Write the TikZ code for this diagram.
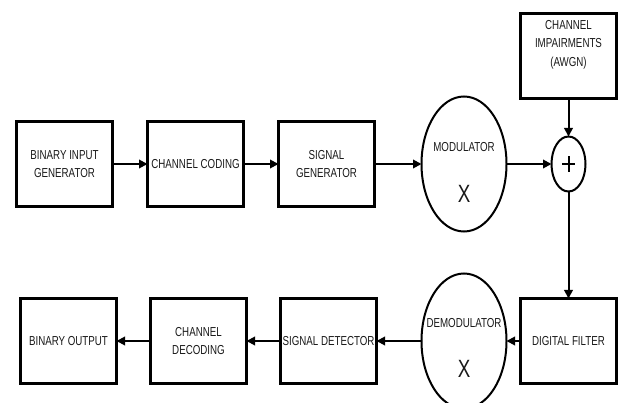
\documentclass[tikz,border=0pt]{standalone}
\usepackage{fontspec}
\setmainfont{Liberation Sans}[FakeStretch=0.75]
\usepackage{tikz}
\usetikzlibrary{shapes,arrows.meta,positioning}

\begin{document}
\begin{tikzpicture}[x=1pt,y=-1pt,
	font=\fontsize{13}{18.5}\selectfont,
	block/.style={draw, line width=2.2pt, minimum width=96pt, minimum height=85pt, inner sep=0pt, outer sep=0pt, align=center, text=black!90},
	oval/.style={draw, ellipse, line width=2pt, minimum width=85pt, minimum height=135pt, inner sep=0pt, outer sep=0pt},
	adder/.style={draw, ellipse, line width=2pt, minimum width=34pt, minimum height=55pt, inner sep=0pt, outer sep=0pt},
	link/.style={line width=2pt, -{Triangle[length=8.5pt,width=8.5pt]}}]

				\useasboundingbox (0,0) rectangle (619,403);

				% transmitter
				\node [block] (bin) at (64.5,164) {BINARY INPUT\\GENERATOR};
				\node [block, right=35pt of bin] (cod) {CHANNEL CODING};
				\node [block, right=35pt of cod] (gen) {SIGNAL\\GENERATOR};
				\node [oval, right=47pt of gen] (mod) {};
				\node [adder, right=45pt of mod] (add) {};
				\node [block, above=38pt of add] (imp) {};

				\node [text=black!90] at ([yshift=16.5pt]mod.center) {MODULATOR};
				\node [text=black!90, font=\fontsize{25}{25}\selectfont] at ([yshift=-29.5pt]mod.center) {X};
				\node [text=black!90, align=center] at ([yshift=11.5pt]imp.center) {CHANNEL\\IMPAIRMENTS\\(AWGN)};
				\draw [line width=2pt] ([xshift=-6.5pt]add.center) -- ([xshift=6.5pt]add.center)
					([yshift=-8pt]add.center) -- ([yshift=8pt]add.center);

				% receiver
				\node [block, below=107pt of add] (fil) {DIGITAL FILTER};
				\node [oval, left=14pt of fil] (dem) {};
				\node [block, left=45pt of dem] (det) {SIGNAL DETECTOR};
				\node [block, left=34pt of det] (dec) {CHANNEL\\DECODING};
				\node [block, left=34pt of dec] (out) {BINARY OUTPUT};

				\node [text=black!90] at ([yshift=18pt]dem.center) {DEMODULATOR};
				\node [text=black!90, font=\fontsize{25}{25}\selectfont] at ([yshift=-28pt]dem.center) {X};

				\draw [link] (bin) -- (cod);
				\draw [link] (cod) -- (gen);
				\draw [link] (gen) -- (mod);
				\draw [link] (mod) -- (add);
				\draw [link] (imp) -- (add);
				\draw [link] (add) -- (fil);
				\draw [link] (fil) -- (dem);
				\draw [link] (dem) -- (det);
				\draw [link] (det) -- (dec);
				\draw [link] (dec) -- (out);

\end{tikzpicture}
\end{document}
